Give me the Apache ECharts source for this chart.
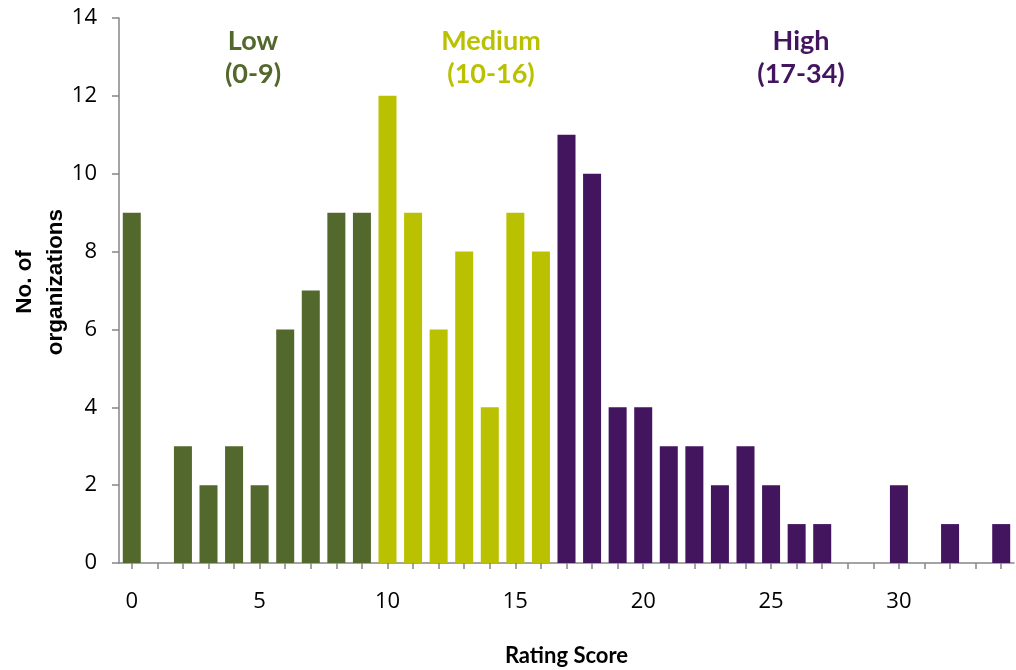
<!DOCTYPE html>
<html>
<head>
<meta charset="utf-8">
<script src="https://cdn.jsdelivr.net/npm/echarts@6/dist/echarts.min.js"></script>
<style>
  html, body { margin: 0; padding: 0; background: #fff; }
  #chart { width: 1016px; height: 670px; }
</style>
</head>
<body>
<div id="chart"></div>
<script>
// Rating scores 0..34 and how many organizations got each score
const scores = [0,1,2,3,4,5,6,7,8,9,10,11,12,13,14,15,16,17,18,19,20,21,22,23,24,25,26,27,28,29,30,31,32,33,34];
const counts = [9,0,3,2,3,2,6,7,9,9,12,9,6,8,4,9,8,11,10,4,4,3,3,2,3,2,1,1,0,0,2,0,1,0,1];

// Rating bands
const bandNames = ['Low', 'Medium', 'High'];
const bandRanges = [[0, 9], [10, 16], [17, 34]];
const bandColors = ['#53682C', '#BAC100', '#44155F'];

const yTicks = [0, 2, 4, 6, 8, 10, 12, 14];
const xTitle = 'Rating Score';
const yTitle = 'No. of\norganizations';

function bandIndex(score) {
  for (let i = 0; i < bandRanges.length; i++) {
    if (score >= bandRanges[i][0] && score <= bandRanges[i][1]) return i;
  }
  return 0;
}

const chart = echarts.init(document.getElementById('chart'), null, { renderer: 'canvas' });

// Band captions above the bars
const bandLabelX = [253, 491, 801];
const graphics = bandNames.map((name, i) => ({
  type: 'text',
  x: bandLabelX[i],
  y: 25,
  style: {
    text: name + '\n(' + bandRanges[i][0] + '-' + bandRanges[i][1] + ')',
    fill: bandColors[i],
    font: 'bold 27px Lato',
    align: 'center',
    lineHeight: 33
  }
}));

// Vertical axis title, two lines, rotated
graphics.push({
  type: 'text',
  x: 40,
  y: 282,
  rotation: Math.PI / 2,
  style: {
    text: yTitle,
    fill: '#000',
    font: 'bold 22.5px "Liberation Sans"',
    align: 'center',
    verticalAlign: 'middle',
    lineHeight: 31
  }
});

chart.setOption({
  animation: false,
  grid: { left: 119, right: 2, top: 18, bottom: 107, containLabel: false, outerBoundsMode: 'none' },
  xAxis: {
    type: 'category',
    data: scores.map(String),
    name: xTitle,
    nameLocation: 'middle',
    nameGap: 82,
    nameTextStyle: { fontFamily: 'Lato', fontWeight: 'bold', fontSize: 22, color: '#000' },
    axisLine: { lineStyle: { color: '#868686', width: 1.5 } },
    axisTick: { show: true, alignWithLabel: true, interval: 0, length: 6, lineStyle: { color: '#868686', width: 1.5 } },
    axisLabel: {
      interval: function (idx, val) { return Number(val) % 5 === 0; },
      margin: 28,
      fontFamily: 'Open Sans',
      fontSize: 22,
      color: '#000'
    }
  },
  yAxis: {
    type: 'value',
    min: yTicks[0],
    max: yTicks[yTicks.length - 1],
    interval: 2,
    splitLine: { show: false },
    axisLine: { show: true, lineStyle: { color: '#868686', width: 1.5 } },
    axisTick: { show: true, length: 7, lineStyle: { color: '#868686', width: 1.5 } },
    axisLabel: {
      margin: 22,
      fontFamily: 'Open Sans',
      fontSize: 22,
      color: '#000'
    }
  },
  series: [{
    type: 'bar',
    data: counts.map((v, i) => ({ value: v, itemStyle: { color: bandColors[bandIndex(scores[i])] } })),
    barWidth: 18
  }],
  graphic: graphics
});
</script>
</body>
</html>
